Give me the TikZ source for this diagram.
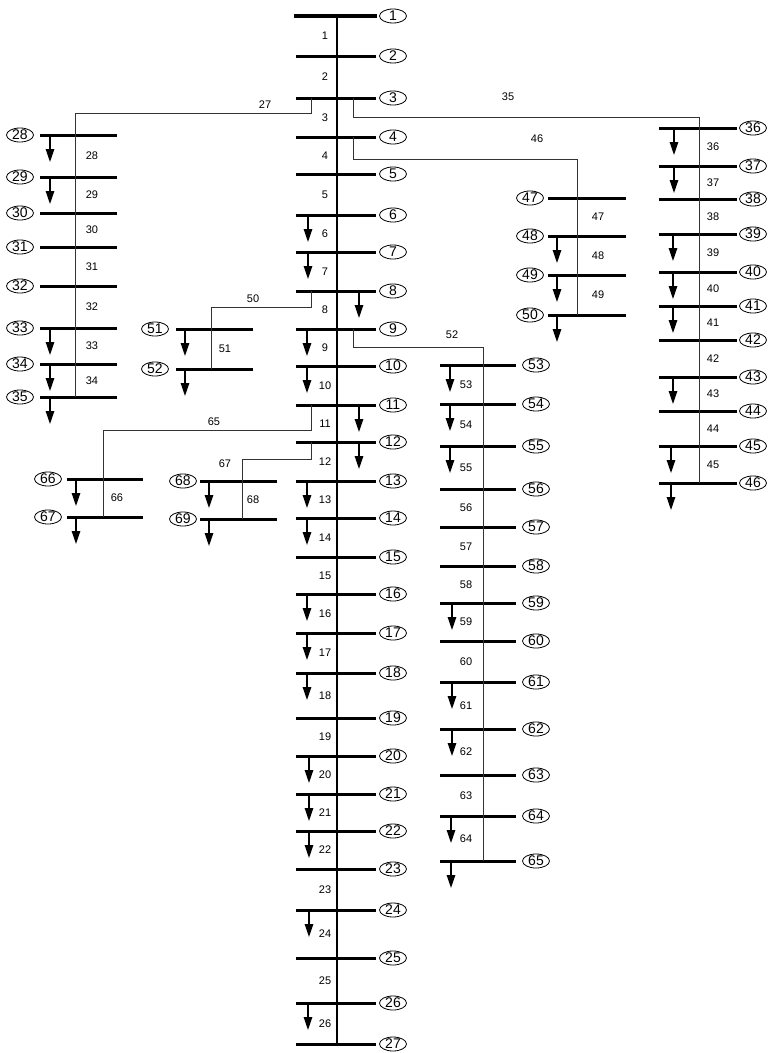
\documentclass[tikz,border=0pt]{standalone}
\usepackage{fontspec}
\setmainfont{Liberation Sans}
\usetikzlibrary{arrows.meta}
\usetikzlibrary{shapes.geometric}

\tikzset{
  bus/.style={line width=3pt},
  feeder/.style={line width=1.3pt},
  lateral/.style={line width=1pt, black!80},
  load/.style={line width=1.3pt, -{Triangle[length=13pt,width=8.5pt]}},
  busno/.style={draw, ellipse, line width=0.8pt, inner sep=0pt, minimum width=27pt, minimum height=14pt, font=\fontsize{14}{14}\selectfont},
  brno/.style={font=\fontsize{11}{11}\selectfont},
}

% #1,#2 bar ends, #3 feeder x, #4 bus number x, #5 branch number x, #6 bus/y/load x
\newcommand{\drawlateral}[6]{
  \foreach \n/\y/\lx [remember=\n as \np (initially 0), remember=\y as \yp (initially 0)] in {#6} {
    \draw[bus] (#1,\y) -- (#2,\y);
    \coordinate (b\n) at (#3,\y);
    \node[busno] (n\n) at (#4,\y) {\n};
    \ifnum\lx>0 \draw[load] (\lx,\y) -- ++(0,27); \fi
    \ifnum\np>0 \node[brno] at (#5,{(\y+\yp)/2}) {\np}; \fi
  }
}

\begin{document}
\begin{tikzpicture}[x=1pt, y=-1pt]
  \useasboundingbox (0,0) rectangle (768,1053);

  % main feeder
  \drawlateral{296}{376}{337}{393}{325}{1/16/0, 2/56/0, 3/98/0, 4/137/0, 5/174/0, 6/215/308, 7/252/308, 8/291/359, 9/329/307, 10/366/307, 11/405/359, 12/442/359, 13/481/307, 14/518/307, 15/557/0, 16/594/307, 17/633/307, 18/673/307, 19/718/0, 20/756/309, 21/794/309, 22/831/309, 23/869/0, 24/910/309, 25/958/0, 26/1003/308, 27/1044/0}
  \draw[bus, line width=4.5pt] (294,16) -- (377,16);
  \draw[feeder] (b1) -- (b27);

  % laterals
  \drawlateral{40}{117}{75}{20}{92}{28/135/50, 29/177/50, 30/213/0, 31/247/0, 32/286/0, 33/328/50, 34/364/50, 35/397/50}
  \drawlateral{659}{737}{699}{753}{713}{36/128/674, 37/166/674, 38/199/0, 39/234/673, 40/272/673, 41/306/673, 42/340/0, 43/377/673, 44/411/0, 45/446/671, 46/483/671}
  \drawlateral{548}{626}{577}{530}{598}{47/198/0, 48/236/557, 49/275/557, 50/315/557}
  \drawlateral{176}{253}{211}{155}{225}{51/329/185, 52/369/185}
  \drawlateral{440}{516}{483}{536}{466}{53/365/450, 54/404/450, 55/446/450, 56/489/0, 57/527/0, 58/566/0, 59/603/452, 60/641/0, 61/682/452, 62/729/452, 63/775/0, 64/816/451, 65/861/451}
  \drawlateral{67}{143}{103}{48}{117}{66/479/76, 67/517/76}
  \drawlateral{200}{277}{242}{183}{253}{68/481/209, 69/519/209}

  % branch taps
  \coordinate (tap27) at (311,98);
  \coordinate (tap35) at (353,98);
  \coordinate (tap46) at (353,137);
  \coordinate (tap50) at (311,291);
  \coordinate (tap52) at (353,329);
  \coordinate (tap65) at (311,405);
  \coordinate (tap67) at (311,442);
  \draw[lateral] (tap27) -- ++(0,15) -| (b35);
  \draw[lateral] (tap35) -- ++(0,19) -| (b46);
  \draw[lateral] (tap46) -- ++(0,22) -| (b50);
  \draw[lateral] (tap50) -- ++(0,16) -| (b52);
  \draw[lateral] (tap52) -- ++(0,18) -| (b65);
  \draw[lateral] (tap65) -- ++(0,25) -| (b67);
  \draw[lateral] (tap67) -- ++(0,17) -| (b69);
  \node[brno] at (265,105) {27};
  \node[brno] at (508,97) {35};
  \node[brno] at (537,139) {46};
  \node[brno] at (253,299) {50};
  \node[brno] at (452,335) {52};
  \node[brno] at (214,422) {65};
  \node[brno] at (225,464) {67};
\end{tikzpicture}
\end{document}
